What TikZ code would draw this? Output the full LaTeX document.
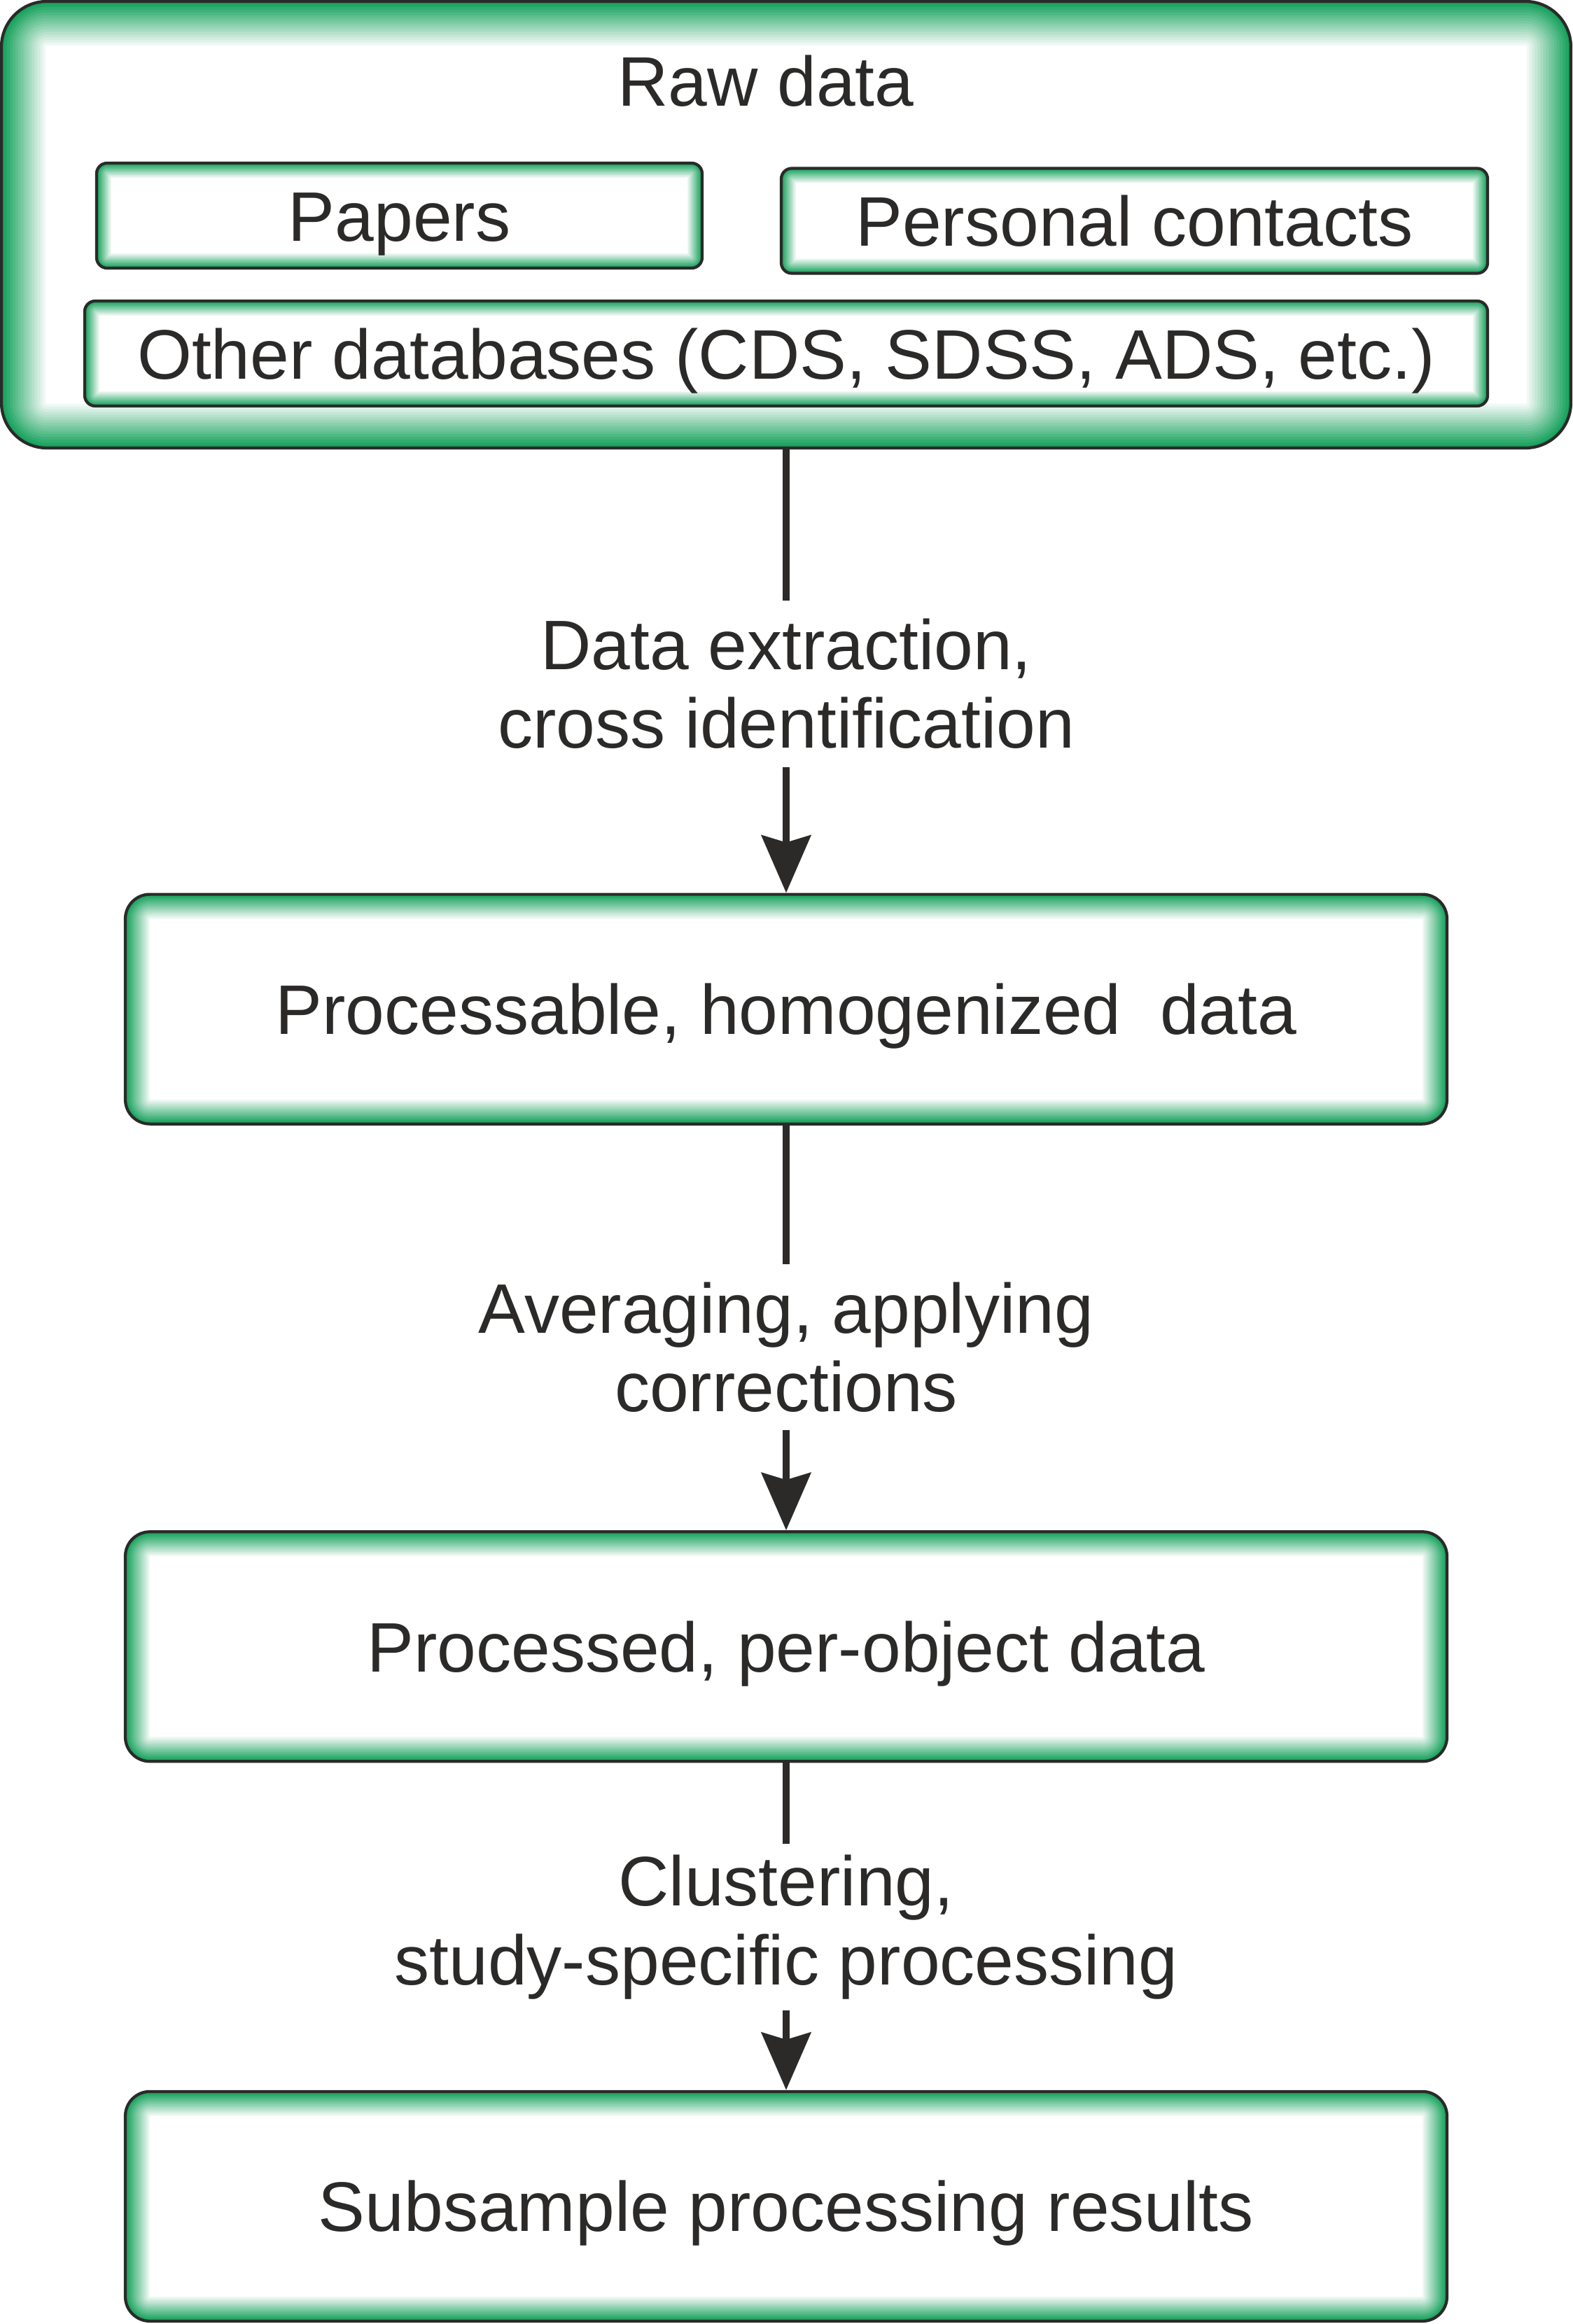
\documentclass[tikz,border=0pt]{standalone}
\usepackage{fontspec}
\setmainfont{Liberation Sans}
\usetikzlibrary{positioning, arrows.meta}
\definecolor{glowgreen}{RGB}{20,160,90}
\definecolor{inkgray}{RGB}{43,42,41}

\begin{document}
\begin{tikzpicture}[
  font=\fontsize{28.5}{32}\selectfont, text=inkgray,
  glow/.style 2 args={draw=inkgray, line width=1.2pt, rounded corners=#2, inner sep=0pt,
    text height=20.5pt, text depth=0pt,
    path picture={
      \foreach \k in {1,...,16}{
        \pgfmathsetmacro{\gw}{2*#1*(17-\k)/16}
        \pgfmathsetmacro{\gc}{100*(\k/16)}
        \draw[glowgreen!\gc!white, line width=\gw pt, rounded corners=#2]
          (path picture bounding box.south west) rectangle (path picture bounding box.north east);
      }}},
  rawbox/.style={glow={18}{0.65cm}, minimum width=22.42cm, minimum height=6.38cm},
  srcbox/.style={glow={6}{0.15cm}, minimum height=1.5cm},
  stagebox/.style={glow={10}{0.35cm}, minimum width=18.88cm, minimum height=3.28cm},
  steplabel/.style={align=center, inner sep=0pt, minimum height=2.36cm},
  link/.style={draw=inkgray, line width=3pt},
  arrow/.style={-{Stealth[length=8.2mm, width=7mm, inset=1mm]}, draw=inkgray, line width=3pt}
]
\useasboundingbox (0,0) rectangle (22.46,-33.2);

% raw data block
\node[rawbox] (raw) at (11.23,-3.21) {};
\node (rawtitle) at (10.94,-1.16) {Raw data};
\node[srcbox, minimum width=8.65cm] (papers) at (5.705,-3.08) {Papers};
\node[srcbox, minimum width=10.09cm] (contacts) at (16.205,-3.155) {Personal contacts};
\node[srcbox, minimum width=20.04cm] (otherdb) at (11.23,-5.05) {Other databases (CDS, SDSS, ADS, etc.)};

% processing chain
\node[steplabel, below=2.16cm of raw] (extract) {Data extraction,\\cross identification};
\node[stagebox, below=1.80cm of extract] (homog) {Processable, homogenized\ \ data};
\node[steplabel, below=1.98cm of homog] (average) {Averaging, applying\\corrections};
\node[stagebox, below=1.43cm of average] (perobj) {Processed, per-object data};
\node[steplabel, below=1.16cm of perobj] (cluster) {Clustering,\\study-specific processing};
\node[stagebox, below=1.14cm of cluster] (subsample) {Subsample processing results};

\draw[link] (raw) -- (extract);
\draw[arrow] (extract) -- (homog);
\draw[link] (homog) -- (average);
\draw[arrow] (average) -- (perobj);
\draw[link] (perobj) -- (cluster);
\draw[arrow] (cluster) -- (subsample);
\end{tikzpicture}
\end{document}
